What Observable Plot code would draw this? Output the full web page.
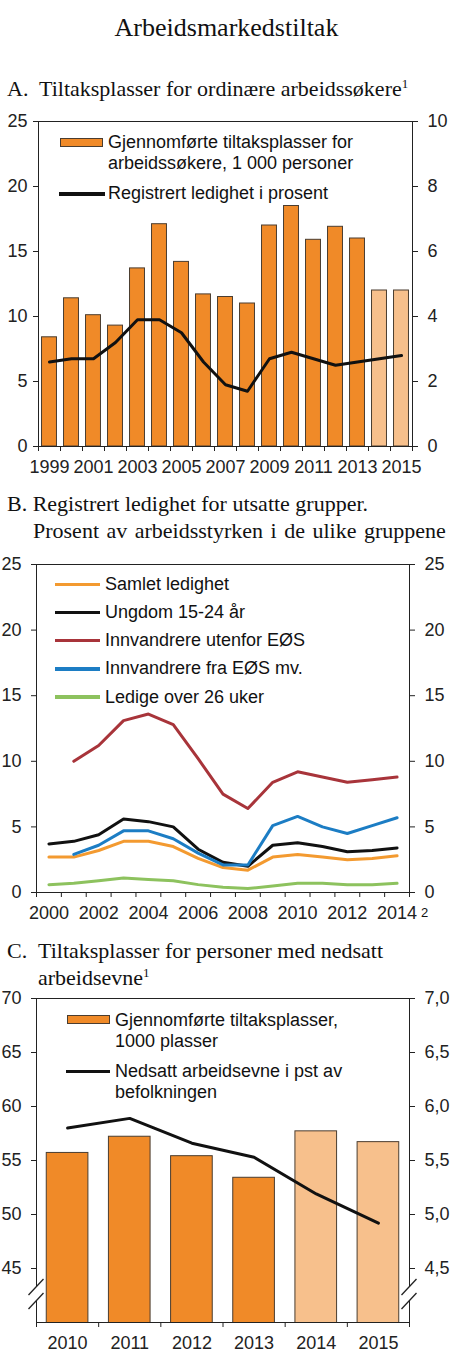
<!DOCTYPE html>
<html lang="no">
<head>
<meta charset="UTF-8">
<title>Arbeidsmarkedstiltak</title>
<script src="https://cdn.jsdelivr.net/npm/d3@7"></script>
<script src="https://cdn.jsdelivr.net/npm/@observablehq/plot@0.6"></script>
<style>
  body { margin: 0; background: #fff; }
  #side { position: relative; width: 450px; height: 1371px; overflow: hidden; font-family: "Liberation Sans", Arial, sans-serif; color: #111; }
  .abs { position: absolute; white-space: nowrap; }
  .serif { font-family: "Liberation Serif", "Times New Roman", serif; font-size: 22px; line-height: 22px; color: #111; }
  .leg { font-size: 18px; line-height: 21px; }
  .sup { font-size: 13px; position: relative; top: -8px; }
</style>
</head>
<body>
<div id="side">
  <div class="abs serif" style="top:15px; left:0; width:453px; text-align:center; font-size:26px; line-height:26px;">Arbeidsmarkedstiltak</div>

  <div class="abs serif" style="top:78px; left:7px;">A.</div>
  <div class="abs serif" style="top:78px; left:39px;">Tiltaksplasser for ordinære arbeidssøkere<span class="sup">1</span></div>

  <div class="abs serif" style="top:493px; left:7px;">B. Registrert ledighet for utsatte grupper.</div>
  <div class="abs serif" style="top:520px; left:33px; word-spacing:2px;">Prosent av arbeidsstyrken i de ulike gruppene</div>

  <div class="abs serif" style="top:940px; left:7px;">C.</div>
  <div class="abs serif" style="top:940px; left:38px;">Tiltaksplasser for personer med nedsatt</div>
  <div class="abs serif" style="top:967px; left:38px;">arbeidsevne<span class="sup">1</span></div>
</div>

<script>
// Figur A: tiltaksplasser for ordinære arbeidssøkere (1 000 personer) og ledighet (prosent)
const aarA = [1999, 2000, 2001, 2002, 2003, 2004, 2005, 2006, 2007, 2008, 2009, 2010, 2011, 2012, 2013, 2014, 2015];
const tiltakA = [8.4, 11.4, 10.1, 9.3, 13.7, 17.1, 14.2, 11.7, 11.5, 11.0, 17.0, 18.5, 15.9, 16.9, 16.0, 12.0, 12.0];
const ledighetA = [2.6, 2.7, 2.7, 3.2, 3.9, 3.9, 3.5, 2.6, 1.9, 1.7, 2.7, 2.9, 2.7, 2.5, 2.6, 2.7, 2.8];
const labelsA = [1999, 2001, 2003, 2005, 2007, 2009, 2011, 2013, 2015];

// Figur B: ledighet for utsatte grupper (prosent)
const aarB = [2000, 2001, 2002, 2003, 2004, 2005, 2006, 2007, 2008, 2009, 2010, 2011, 2012, 2013, 2014];
const samlet = [2.7, 2.7, 3.2, 3.9, 3.9, 3.5, 2.6, 1.9, 1.7, 2.7, 2.9, 2.7, 2.5, 2.6, 2.8];
const ungdom = [3.7, 3.9, 4.4, 5.6, 5.4, 5.0, 3.3, 2.3, 2.0, 3.6, 3.8, 3.5, 3.1, 3.2, 3.4];
const utenforEOS = [null, 10.0, 11.2, 13.1, 13.6, 12.8, 10.2, 7.5, 6.4, 8.4, 9.2, 8.8, 8.4, 8.6, 8.8];
const fraEOS = [null, 2.9, 3.6, 4.7, 4.7, 4.1, 3.0, 2.1, 2.1, 5.1, 5.8, 5.0, 4.5, 5.1, 5.7];
const langtid = [0.6, 0.7, 0.9, 1.1, 1.0, 0.9, 0.6, 0.4, 0.3, 0.5, 0.7, 0.7, 0.6, 0.6, 0.7];
const labelsB = [2000, 2002, 2004, 2006, 2008, 2010, 2012, 2014];

// Figur C: tiltaksplasser for personer med nedsatt arbeidsevne
const aarC = [2010, 2011, 2012, 2013, 2014, 2015];
const tiltakC = [55.7, 57.2, 55.4, 53.4, 57.7, 56.7];
const nedsatt = [5.80, 5.89, 5.66, 5.53, 5.19, 4.92];

// anslag (lysere søyler)
const anslag = [2014, 2015];

const oransje = "#F08A28";
const lys = "#F7C08C";
const kant = "#4a3d30";
const seriesB = [
  {navn: "Ledige over 26 uker", verdier: langtid, farge: "#8DC25E"},
  {navn: "Samlet ledighet", verdier: samlet, farge: "#F39A30"},
  {navn: "Innvandrere utenfor EØS", verdier: utenforEOS, farge: "#A8343A"},
  {navn: "Ungdom 15-24 år", verdier: ungdom, farge: "#111111"},
  {navn: "Innvandrere fra EØS mv.", verdier: fraEOS, farge: "#1C7DC4"}
];

const side = document.getElementById("side");
const stil = {fontFamily: "Liberation Sans, Arial, sans-serif", fontSize: "18px", color: "#222", overflow: "visible", background: "transparent"};

function plasser(top, node) {
  const d = document.createElement("div");
  d.className = "abs";
  d.style.top = top + "px";
  d.style.left = "0px";
  d.append(node);
  side.append(d);
}
function tekst(top, left, html, size) {
  const d = document.createElement("div");
  d.className = "abs leg";
  d.style.top = top + "px";
  d.style.left = left + "px";
  if (size) { d.style.fontSize = size + "px"; d.style.lineHeight = size + "px"; }
  d.innerHTML = html;
  side.append(d);
}
function boks(top, left, w, h, fill, border) {
  const d = document.createElement("div");
  d.className = "abs";
  Object.assign(d.style, {top: top + "px", left: left + "px", width: w + "px", height: h + "px", background: fill, boxSizing: "border-box"});
  if (border) d.style.border = "1px solid " + border;
  side.append(d);
}

// aksebrudd i figur C
function brudd(index, scales, values, dim) {
  const g = d3.create("svg:g");
  const y0 = dim.height - dim.marginBottom;
  for (const x of [dim.marginLeft, dim.width - dim.marginRight]) {
    g.append("rect").attr("x", x - 3).attr("y", y0 - 35).attr("width", 6).attr("height", 14).attr("fill", "white");
    for (const cy of [y0 - 35, y0 - 21]) {
      g.append("line")
        .attr("x1", x - 7.5).attr("y1", cy + 8)
        .attr("x2", x + 7.5).attr("y2", cy - 8)
        .attr("stroke", "#222").attr("stroke-width", 1.3);
    }
  }
  return g.node();
}

// ---- A ----
const tabA = aarA.map((aar, i) => ({aar, tiltak: tiltakA[i], ledighet: ledighetA[i], anslag: anslag.includes(aar)}));
const plotA = Plot.plot({
  width: 450, height: 381,
  marginTop: 21, marginBottom: 35, marginLeft: 38, marginRight: 38,
  style: stil,
  x: {domain: [1998.5, 2015.5], label: null},
  y: {domain: [0, 25], label: null},
  marks: [
    Plot.rectY(tabA, {filter: d => !d.anslag, x1: d => d.aar - 0.34, x2: d => d.aar + 0.34, y1: 0, y2: "tiltak", fill: oransje, stroke: kant, strokeWidth: 1}),
    Plot.rectY(tabA, {filter: d => d.anslag, x1: d => d.aar - 0.34, x2: d => d.aar + 0.34, y1: 0, y2: "tiltak", fill: lys, stroke: kant, strokeWidth: 1}),
    Plot.frame({stroke: "#222"}),
    Plot.axisY({anchor: "left", ticks: d3.range(0, 26, 5), tickSize: 5, tickPadding: 6, label: null, fontSize: 18}),
    Plot.axisY({anchor: "right", ticks: d3.range(0, 26, 5), tickFormat: d => d / 2.5, tickSize: 5, tickPadding: 10, label: null, fontSize: 18}),
    Plot.axisX({ticks: d3.range(1998.5, 2016, 1), tickFormat: () => "", tickSize: 5, label: null}),
    Plot.axisX({ticks: labelsA, tickFormat: "d", tickSize: 0, tickPadding: 14, label: null, fontSize: 18}),
    Plot.line(tabA, {x: "aar", y: d => d.ledighet * 2.5, stroke: "#111", strokeWidth: 3})
  ]
});
plasser(100, plotA);

boks(138, 60, 43, 9, oransje, kant);
tekst(132, 108, "Gjennomførte tiltaksplasser for<br>arbeidssøkere, 1 000 personer");
boks(192, 59, 46, 3.5, "#111");
tekst(183, 108, "Registrert ledighet i prosent");

// ---- B ----
const tabB = seriesB.flatMap(s => aarB.map((aar, i) => ({aar, verdi: s.verdier[i], navn: s.navn, farge: s.farge})));
const plotB = Plot.plot({
  width: 450, height: 382,
  marginTop: 19, marginBottom: 35, marginLeft: 36, marginRight: 41,
  style: stil,
  x: {domain: [1999.5, 2014.5], label: null},
  y: {domain: [0, 25], label: null},
  marks: [
    Plot.frame({stroke: "#222"}),
    Plot.axisY({anchor: "left", ticks: d3.range(0, 26, 5), tickSize: 5, tickPadding: 10, label: null, fontSize: 18}),
    Plot.axisY({anchor: "right", ticks: d3.range(0, 26, 5), tickSize: 5, tickPadding: 10, label: null, fontSize: 18}),
    Plot.axisX({ticks: d3.range(1999.5, 2015, 1), tickFormat: () => "", tickSize: 5, label: null}),
    Plot.axisX({ticks: labelsB, tickFormat: "d", tickSize: 0, tickPadding: 14, label: null, fontSize: 18}),
    ...seriesB.map(s => Plot.line(tabB.filter(d => d.navn === s.navn), {x: "aar", y: "verdi", stroke: s.farge, strokeWidth: 3}))
  ]
});
plasser(545, plotB);

const legB = ["Samlet ledighet", "Ungdom 15-24 år", "Innvandrere utenfor EØS", "Innvandrere fra EØS mv.", "Ledige over 26 uker"];
legB.forEach((navn, i) => {
  const s = seriesB.find(d => d.navn === navn);
  const cy = 584 + i * 28.2;
  boks(cy - 1.5, 55, 45, 3.5, s.farge);
  tekst(cy - 10.3, 105, navn);
});
tekst(906, 421, "2", 13);

// ---- C ----
const tabC = aarC.map((aar, i) => ({aar, tiltak: tiltakC[i], nedsatt: nedsatt[i], anslag: anslag.includes(aar)}));
const plotC = Plot.plot({
  width: 450, height: 377,
  marginTop: 18, marginBottom: 35, marginLeft: 36, marginRight: 41,
  style: stil,
  x: {domain: [2009.5, 2015.5], label: null},
  y: {domain: [40, 70], label: null},
  marks: [
    Plot.rectY(tabC, {filter: d => !d.anslag, x1: d => d.aar - 0.335, x2: d => d.aar + 0.335, y1: 0, y2: "tiltak", fill: oransje, stroke: kant, strokeWidth: 1, clip: true}),
    Plot.rectY(tabC, {filter: d => d.anslag, x1: d => d.aar - 0.335, x2: d => d.aar + 0.335, y1: 0, y2: "tiltak", fill: lys, stroke: kant, strokeWidth: 1, clip: true}),
    Plot.frame({stroke: "#222"}),
    Plot.axisY({anchor: "left", ticks: d3.range(45, 71, 5), tickSize: 5, tickPadding: 10, label: null, fontSize: 18}),
    Plot.axisY({anchor: "right", ticks: d3.range(45, 71, 5), tickFormat: d => (d / 10).toFixed(1).replace(".", ","), tickSize: 5, tickPadding: 10, label: null, fontSize: 18}),
    Plot.axisX({ticks: d3.range(2009.5, 2016, 1), tickFormat: () => "", tickSize: 5, label: null}),
    Plot.axisX({ticks: aarC, tickFormat: "d", tickSize: 0, tickPadding: 14, label: null, fontSize: 18}),
    Plot.line(tabC, {x: "aar", y: d => d.nedsatt * 10, stroke: "#111", strokeWidth: 3}),
    brudd
  ]
});
plasser(980, plotC);

boks(1015, 67, 43, 9, oransje, kant);
tekst(1010, 115, "Gjennomførte tiltaksplasser,<br>1000 plasser");
boks(1069.5, 66, 44, 3.5, "#111");
tekst(1061, 115, "Nedsatt arbeidsevne i pst av<br>befolkningen");
</script>
</body>
</html>
